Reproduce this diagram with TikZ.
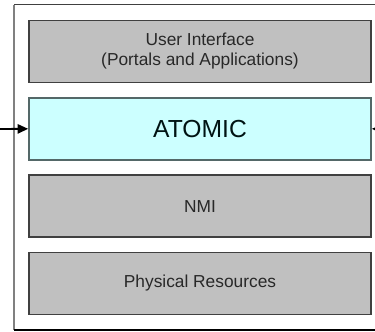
\documentclass[tikz,border=0pt]{standalone}
\usepackage{fontspec}
\setmainfont{Liberation Sans}
\usetikzlibrary{positioning,arrows.meta}
\definecolor{layergray}{RGB}{192, 192, 192}
\definecolor{layeredge}{RGB}{64, 64, 64}
\definecolor{atomiccyan}{RGB}{204, 255, 255}
\definecolor{atomicedge}{RGB}{84, 104, 104}
\definecolor{labeltext}{RGB}{40, 40, 40}

\begin{document}
\begin{tikzpicture}[x=0.75pt, y=-0.75pt, node distance=10.3pt, >={Triangle[length=8pt, width=7pt]}, thick,
    layer/.style={draw=layeredge, line width=1.2pt, rectangle, fill=layergray, text=labeltext, align=center, font=\fontsize{13}{15}\selectfont, minimum width=256.5pt, minimum height=46.5pt, inner sep=0pt}]
    \useasboundingbox (0,0) rectangle (375,332);
    % outer frame, open at the right
    \draw[layeredge, line width=1.2pt] (375,4.5) -- (14,4.5);
    \draw[gray, line width=1.6pt] (14,4.5) -- (14,330);
    \draw[black, line width=1pt] (14,330) -- (375,330);

    \node[layer] (ui) at (200,51.5) {User Interface\\(Portals and Applications)};
    \node[layer, draw=atomicedge, fill=atomiccyan, text=black!85!teal, font=\fontsize{18.5}{22}\selectfont, below=of ui] (atomic) {ATOMIC};
    \node[layer, below=of atomic] (nmi) {NMI};
    \node[layer, below=of nmi] (phys) {Physical Resources};

    \coordinate (leftin) at (0,129);
    \coordinate (rightin) at (385,129);
    \draw[->, line width=1.4pt] (leftin) -- (atomic.west);
    \draw[->, line width=1.4pt] (rightin) -- (atomic.east);
\end{tikzpicture}
\end{document}
